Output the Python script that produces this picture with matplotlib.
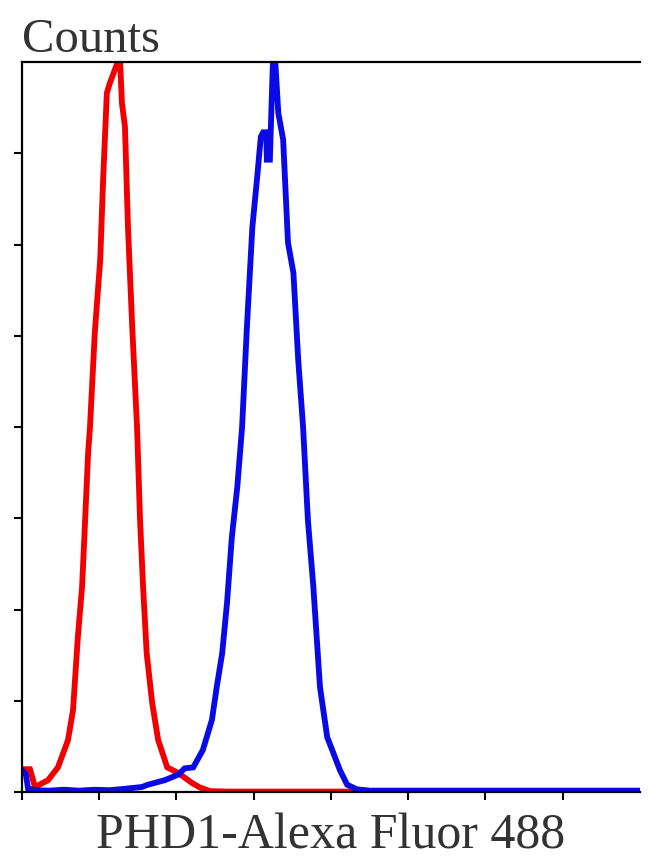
import matplotlib
matplotlib.use("Agg")
import matplotlib.pyplot as plt

# Red histogram (control)
red_x = [0.5, 13.7, 22, 43.6, 60, 76.7, 85, 93, 100, 105, 110, 113, 121, 130, 135, 141, 146, 154,
         159, 163, 166, 171, 176, 183, 191, 196, 201, 207, 216, 226, 241, 259, 282, 295, 312, 340, 1020]
red_y = [25, 25, 5.5, 13, 27, 57, 90, 170, 225, 298, 372, 399, 503, 583, 674, 766, 777, 791,
         800, 800, 755, 729, 619, 510, 400, 298, 225, 152, 98, 57, 27, 21, 10, 5, 1, 0.5, 0.5]

# Blue histogram (PHD1 stained)
blue_x = [0.5, 7, 10.4, 22, 45, 70, 95, 120, 145, 170, 199, 209, 237, 259, 270, 284, 300, 315,
          323, 332, 340, 348, 357, 365, 373, 382, 390, 396, 400, 405, 406, 411, 416, 420, 425,
          433, 441, 450, 458, 466, 474, 483, 494, 506, 516, 527, 539, 555, 577, 1020]
blue_y = [24, 19, 4, 2, 1.5, 2.5, 1.5, 2.5, 2, 3.5, 5.5, 8, 13, 19, 26, 27, 46, 79,
          115, 152, 207, 279, 334, 400, 510, 619, 674, 718, 723, 723, 693, 693, 800, 800, 744,
          715, 602, 569, 473, 400, 298, 225, 115, 60, 43, 24, 8, 3, 1.5, 1.5]

x_ticks = [0, 128, 256, 384, 512, 640, 768, 896]
y_ticks = [0, 100, 200, 300, 400, 500, 600, 700]
x_label = "PHD1-Alexa Fluor 488"
y_label = "Counts"

fig = plt.figure(figsize=(6.5, 8.64), dpi=100)
ax = fig.add_axes([0.0334, 0.0833, 0.9512, 0.8449])

ax.plot(red_x, red_y, color="#f00000", lw=4.2, solid_joinstyle="miter")
ax.plot(blue_x, blue_y, color="#0a0ae6", lw=4.2, solid_joinstyle="miter")

ax.set_xlim(0, 1024)
ax.set_ylim(0, 800)
ax.set_xticks(x_ticks)
ax.set_yticks(y_ticks)
ax.set_xticklabels([])
ax.set_yticklabels([])
ax.tick_params(axis="both", direction="out", length=6, width=1.5, color="black")
ax.spines["right"].set_visible(False)
for s in ["left", "top", "bottom"]:
    ax.spines[s].set_linewidth(1.6)
    ax.spines[s].set_color("black")

fig.text(0.034, 0.9398, y_label, fontsize=35, family="Liberation Serif",
         ha="left", va="baseline", color="#333333")
fig.text(0.509, 0.0185, x_label, fontsize=36, family="Liberation Serif",
         ha="center", va="baseline", color="#333333")

fig.savefig("out.png", dpi=100)
